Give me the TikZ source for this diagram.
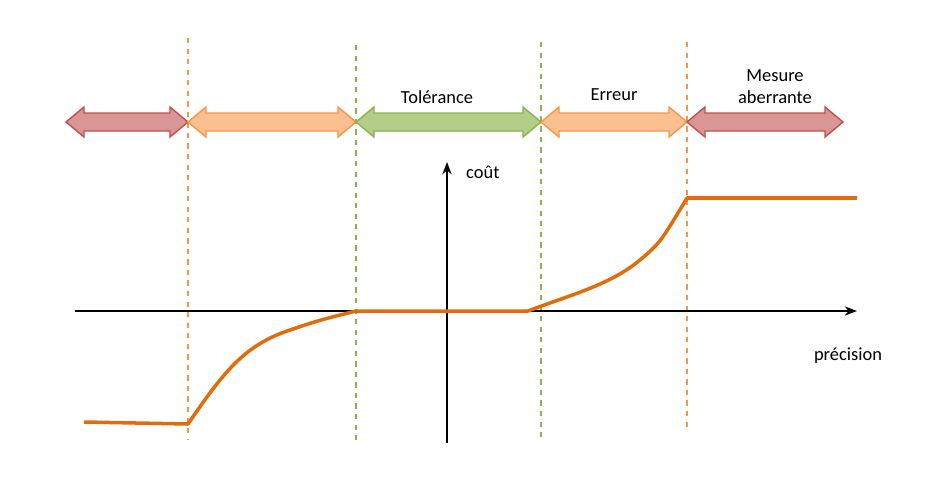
\documentclass[tikz,border=0pt]{standalone}
\usepackage{fontspec}
\setmainfont{Carlito}
\usetikzlibrary{arrows.meta}
\definecolor{redF}{HTML}{D99694}\definecolor{redD}{HTML}{C0504D}
\definecolor{orF}{HTML}{FAC090}\definecolor{orD}{HTML}{F79646}
\definecolor{grF}{HTML}{B3CE89}\definecolor{grD}{HTML}{8DB050}
\definecolor{curve}{HTML}{E36C0A}
\tikzset{lbl/.style={font=\fontsize{10.5}{12.5}\selectfont,align=center},
 vdash/.style={dashed,line width=0.6pt}}
\newcommand{\dblarrow}[4]{% x1 x2 fill draw
 \draw[fill=#3,draw=#4,line width=0.8pt] (#1,122) -- (#1+18,107) -- (#1+18,113) -- (#2-18,113) -- (#2-18,107) -- (#2,122) -- (#2-18,137) -- (#2-18,131) -- (#1+18,131) -- (#1+18,137) -- cycle;}
\begin{document}
\begin{tikzpicture}[x=0.02cm,y=-0.02cm]
\useasboundingbox (0,0) rectangle (944,498);
\draw[vdash,orD] (188,38) -- (188,440);
\draw[vdash,grD] (356,45) -- (356,440);
\draw[vdash,grD] (541,42) -- (541,440);
\draw[vdash,orD] (687,42) -- (687,432);
\dblarrow{66}{188}{redF}{redD}
\dblarrow{188}{356}{orF}{orD}
\dblarrow{356}{541}{grF}{grD}
\dblarrow{541}{687}{orF}{orD}
\dblarrow{687}{843}{redF}{redD}
\node[lbl] (t) at (437,97) {Tolérance};
\node[lbl] (e) at (614,95) {Erreur};
\node[lbl] (m) at (775,87) {Mesure\\aberrante};
\coordinate (xl) at (75,311); \coordinate (xr) at (857,311);
\coordinate (yb) at (447,443); \coordinate (yt) at (447,162);
\draw[-{Stealth[length=7pt]},line width=0.9pt] (xl) -- (xr);
\draw[-{Stealth[length=7pt]},line width=0.9pt] (yb) -- (yt);
\node[lbl,anchor=west] (c) at (460,172) {coût};
\node[lbl] (p) at (848,356) {précision};
\draw[curve,line width=2pt,line join=round] (84,422) -- (188,424)
  .. controls (225,370) and (245,345) .. (290,330) .. controls (320,320) .. (356,311)
  -- (528,311) .. controls (570,295) and (610,285) .. (640,260) .. controls (660,243) .. (687,198)
  -- (857,198);
\end{tikzpicture}
\end{document}
